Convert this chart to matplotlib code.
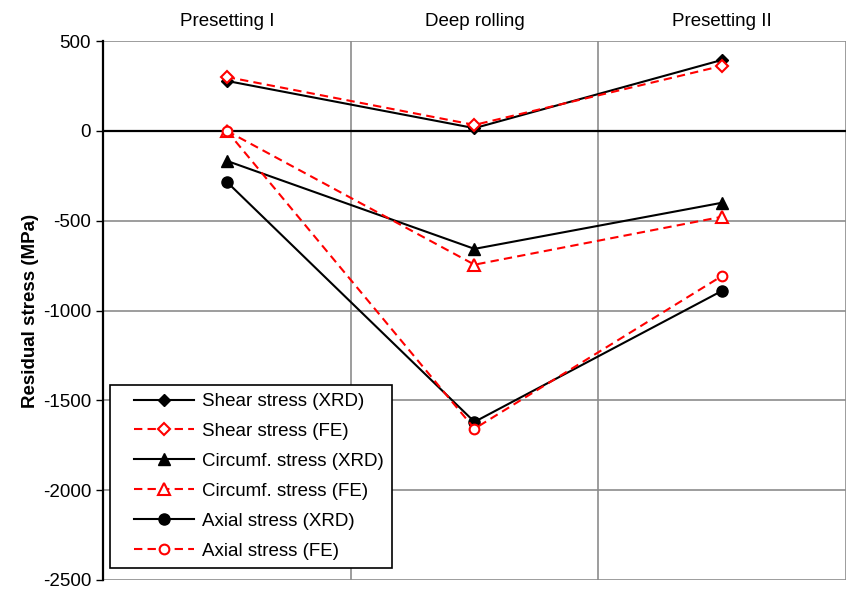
import matplotlib.pyplot as plt
from matplotlib.legend_handler import HandlerLine2D
import numpy as np

plt.rcParams['font.family'] = ['Liberation Sans', 'DejaVu Sans']
plt.rcParams['axes.unicode_minus'] = False

# categories (stages) and residual stress values (MPa)
stages = ['Presetting I', 'Deep rolling', 'Presetting II']
shear_xrd = [278, 15, 395]
shear_fe = [300, 33, 362]
circ_xrd = [-167, -657, -400]
circ_fe = [0, -745, -478]
axial_xrd = [-284, -1620, -890]
axial_fe = [0, -1658, -807]

x = np.arange(len(stages)) + 0.5


class ShiftedLine(HandlerLine2D):
    # legend handle pushed to the right, like the excel legend
    def create_artists(self, legend, orig_handle, xdescent, ydescent,
                       width, height, fontsize, trans):
        shift = 0.85 * fontsize
        return super().create_artists(legend, orig_handle, xdescent - shift,
                                      ydescent, width - shift, height,
                                      fontsize, trans)


fig = plt.figure(figsize=(8.46, 5.92), dpi=100)
ax = fig.add_axes([0.1217, 0.0203, 0.8783, 0.9104])

# grid like the excel original
for yv in range(-2500, 501, 500):
    ax.axhline(yv, color='#8c8c8c', lw=1.2, zorder=0)
for xv in [1, 2, 3]:
    ax.axvline(xv, color='#8c8c8c', lw=1.2, zorder=0)
ax.axhline(0, color='black', lw=1.6, zorder=1)

ms = 7
dash = (4, 2.5)
ax.plot(x, shear_xrd, '-', color='black', lw=1.5, marker='D', ms=ms - 1,
        label='Shear stress (XRD)', zorder=3)
ax.plot(x, shear_fe, '--', color='red', lw=1.5, marker='D', ms=ms - 1,
        mfc='white', mew=1.5, dashes=dash, label='Shear stress (FE)', zorder=4)
ax.plot(x, circ_xrd, '-', color='black', lw=1.5, marker='^', ms=ms + 1,
        label='Circumf. stress (XRD)', zorder=3)
ax.plot(x, circ_fe, '--', color='red', lw=1.5, marker='^', ms=ms + 1,
        mfc='white', mew=1.5, dashes=dash, label='Circumf. stress (FE)', zorder=4)
ax.plot(x, axial_xrd, '-', color='black', lw=1.5, marker='o', ms=ms + 1,
        label='Axial stress (XRD)', zorder=3)
ax.plot(x, axial_fe, '--', color='red', lw=1.5, marker='o', ms=ms,
        mfc='white', mew=1.5, dashes=dash, label='Axial stress (FE)', zorder=4)

ax.set_xlim(0, 3)
ax.set_ylim(-2500, 500)
ax.set_yticks(range(-2500, 501, 500))
ax.tick_params(axis='y', labelsize=13.5, length=5, width=1, direction='out')

ax.set_xticks(x)
ax.set_xticklabels(stages, fontsize=13.5)
ax.xaxis.tick_top()
ax.tick_params(axis='x', length=0, pad=8)

for s in ['top', 'right', 'bottom']:
    ax.spines[s].set_visible(False)
ax.spines['left'].set_linewidth(1.6)

ax.set_ylabel('Residual stress (MPa)', fontsize=13.5, fontweight='bold', labelpad=3)

leg = ax.legend(loc='lower left', bbox_to_anchor=(0.0094, 0.0223), fontsize=13.5,
                frameon=True, fancybox=False, edgecolor='black', framealpha=1,
                handlelength=4.05, handletextpad=0.4, borderpad=0.45,
                labelspacing=0.68, borderaxespad=0,
                handler_map={plt.Line2D: ShiftedLine()})
leg.get_frame().set_linewidth(1.2)

fig.savefig('out.png', dpi=100)
